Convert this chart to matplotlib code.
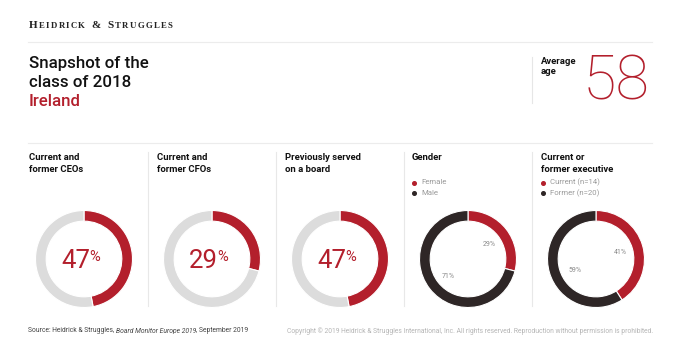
import matplotlib
matplotlib.use("Agg")
import matplotlib.pyplot as plt

# ---- data ----
panel_titles = [["Current and", "former CEOs"], ["Current and", "former CFOs"],
                ["Previously served", "on a board"], ["Gender"],
                ["Current or", "former executive"]]
single_values = [47, 29, 47]          # % shown in first three donuts
gender_labels = ["Female", "Male"]
gender_values = [29, 71]
exec_labels = ["Current (n=14)", "Former (n=20)"]
exec_values = [41, 59]
average_age = 58

RED = "#b31f2c"
DARK = "#2e2626"
LIGHT = "#dcdcdc"
FONT = "Roboto"

W, H = 680, 355
fig = plt.figure(figsize=(W / 100, H / 100), dpi=100)
fig.patch.set_facecolor("white")
bg = fig.add_axes([0, 0, 1, 1])
bg.set_xlim(0, W)
bg.set_ylim(H, 0)
bg.axis("off")
renderer = fig.canvas.get_renderer()

# header small caps, tracked
x = 29
for word in ["HEIDRICK", "&", "STRUGGLES"]:
    for i, ch in enumerate(word):
        sz = 8.0 if i == 0 else 6.3
        t = bg.text(x, 28.5, ch, fontsize=sz, fontfamily="Liberation Serif",
                    fontweight="bold", color="#222222", va="baseline", ha="left")
        x += t.get_window_extent(renderer).width + 1.35
    x += 5.0

bg.plot([28, 652], [42, 42], color="#ececec", lw=0.8)
bg.plot([28, 652], [143, 143], color="#ececec", lw=0.8)

# title
for i, (line, col) in enumerate([("Snapshot of the", "#111111"),
                                 ("class of 2018", "#111111"),
                                 ("Ireland", RED)]):
    bg.text(29, 68 + 19 * i, line, fontsize=12.2, fontfamily=FONT,
            fontweight="medium", color=col, va="baseline")

# average age
bg.plot([532, 532], [57, 103], color="#e6e6e6", lw=0.8)
for i, line in enumerate(["Average", "age"]):
    bg.text(541, 63.5 + 10.5 * i, line, fontsize=6.8, fontfamily=FONT,
            fontweight="bold", color="#111111", va="baseline")
bg.text(583, 100, str(average_age), fontsize=44, fontfamily=FONT, fontweight="light",
        color=RED, va="baseline", ha="left")

# column separators and titles
col_x = [29, 157, 285, 412, 541]
for sx in [148, 276, 404, 532]:
    bg.plot([sx, sx], [152, 306], color="#e8e8e8", lw=0.8)
for cx, lines in zip(col_x, panel_titles):
    for i, line in enumerate(lines):
        bg.text(cx, 160.5 + 11.5 * i, line, fontsize=6.8, fontfamily=FONT,
                fontweight="bold", color="#111111", va="baseline")

# legends
for cx, labels in [(412, gender_labels), (541, exec_labels)]:
    for i, (lab, col) in enumerate(zip(labels, [RED, DARK])):
        yy = 182.5 + i * 10.5
        bg.plot(cx + 2, yy, "o", color=col, ms=2.6)
        bg.text(cx + 9, yy, lab, fontsize=5.6, fontfamily=FONT, color="#9a9a9a",
                va="center")

# donuts
centers = [84, 212, 340, 468, 596]
cy, R = 259, 48.5

def donut_axes(cx):
    ax = fig.add_axes([(cx - R) / W, 1 - (cy + R) / H, 2 * R / W, 2 * R / H])
    ax.set_aspect("equal")
    ax.axis("off")
    return ax

for cx, v in zip(centers[:3], single_values):
    ax = donut_axes(cx)
    ax.pie([v, 100 - v], colors=[RED, LIGHT], startangle=90, counterclock=False,
           radius=1.0, wedgeprops=dict(width=0.22, edgecolor="white", linewidth=0.8))
    ax.set_xlim(-1, 1)
    ax.set_ylim(-1, 1)
    # big percentage, pixel-placed on background
    bg.text(cx + 6, 268, f"{v}", fontsize=18.5, fontfamily=FONT,
            color=RED, ha="right", va="baseline", zorder=5)
    bg.text(cx + 5.2, 250, "%", fontsize=10.5, fontfamily=FONT,
            color=RED, ha="left", va="top", zorder=5)

for cx, vals in [(centers[3], gender_values), (centers[4], exec_values)]:
    ax = donut_axes(cx)
    ax.pie(vals, colors=[RED, DARK], startangle=90, counterclock=False, radius=1.0,
           wedgeprops=dict(width=0.22, edgecolor="white", linewidth=0.8))
    ax.set_xlim(-1, 1)
    ax.set_ylim(-1, 1)

# small percentage labels (pixel positions)
for (px, py, lab) in [(489, 244, f"{gender_values[0]}%"), (448, 277, f"{gender_values[1]}%"),
                      (620, 253, f"{exec_values[0]}%"), (575, 271, f"{exec_values[1]}%")]:
    bg.text(px, py, lab, fontsize=5, fontfamily=FONT, color="#8a8a8a",
            ha="center", va="center", zorder=5)
bg.set_zorder(3)
bg.patch.set_alpha(0)

# footer
fy = 331
src = bg.text(28, fy, "Source: Heidrick & Struggles,", fontsize=4.9, fontfamily=FONT,
              color="#444444", va="center")
x0 = 28 + src.get_window_extent(renderer).width + 1.8
it = bg.text(x0, fy, "Board Monitor Europe 2019", fontsize=4.9, fontfamily=FONT,
             style="italic", color="#444444", va="center")
x1 = x0 + it.get_window_extent(renderer).width
bg.text(x1, fy, ", September 2019", fontsize=4.9, fontfamily=FONT,
        color="#444444", va="center")
bg.text(653, fy, "Copyright \u00a9 2019 Heidrick & Struggles International, Inc. All rights reserved. "
        "Reproduction without permission is prohibited.", fontsize=4.9, fontfamily=FONT,
        color="#b5b5b5", va="center", ha="right")

fig.savefig("out.png", dpi=100, facecolor="white")
